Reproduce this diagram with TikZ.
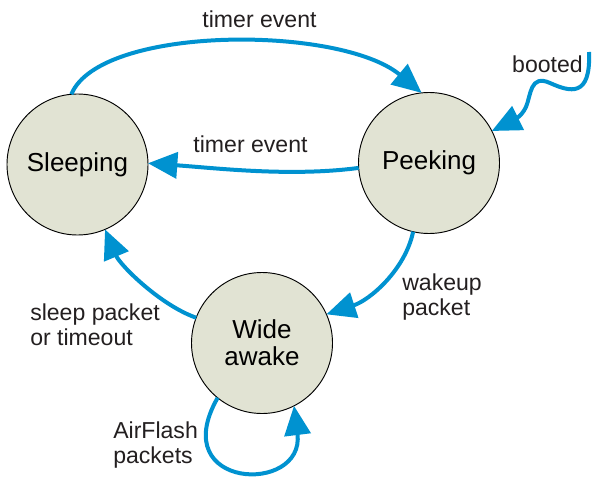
\documentclass[tikz,border=0pt]{standalone}
\usepackage{fontspec}
\setmainfont{Liberation Sans}
\usetikzlibrary{arrows.meta}
\definecolor{flowblue}{RGB}{0,146,208}
\definecolor{statefill}{RGB}{225,227,211}
\definecolor{inktext}{RGB}{35,31,32}
\begin{document}
\begin{tikzpicture}[x=0.75pt,y=-0.75pt,
  state/.style={circle, draw=black, line width=0.7pt, fill=statefill,
    minimum size=105.75pt, inner sep=0pt, outer sep=0pt, align=center,
    font=\fontsize{19.5}{20.25}\selectfont, text=black},
  trans/.style={draw=flowblue, line width=3pt,
    -{Triangle[length=22pt,width=19.5pt]}},
  lbl/.style={font=\fontsize{17.3}{18.75}\selectfont, text=inktext,
    inner sep=0pt, align=left}]
\useasboundingbox (0,0) rectangle (592,478);

% states
\node[state] (sl) at (77.5,164.5) {Sleeping};
\node[state] (pk) at (429,163) {Peeking};
\node[state] (wa) at (262,343) {Wide\\awake};

% transitions
\draw[trans] (sl.95) .. controls (100,25) and (340,25) .. (pk.96);
\draw[trans] (pk.184) .. controls (290,177) and (215,168) .. (sl.1);
\draw[trans] (pk.257) .. controls (405,270) and (370,300) .. (wa.24);
\draw[trans] (wa.159) .. controls (160,305) and (120,265) .. (sl.293);
\draw[trans] (wa.231) .. controls (165,490) and (305,495) .. (wa.297);
\coordinate (bootsrc) at (589,52);
\draw[trans] (bootsrc) .. controls (591,98) and (570,92) .. (550,83)
  .. controls (530,74) and (531,95) .. (526,107)
  .. controls (521,118) and (510,122) .. (pk.27);

% labels (multi-line labels are placed by the baseline of their last line)
\node[lbl, anchor=base] (lblTop) at (259.5,28) {timer event};
\node[lbl, anchor=base] (lblMid) at (250.5,152) {timer event};
\node[lbl, anchor=base] (lblBoot) at (547.5,73) {booted};
\node[lbl, anchor=base west] (lblWake) at (402,315) {wakeup\\packet};
\node[lbl, anchor=base west] (lblSleep) at (30,345) {sleep packet\\or timeout};
\node[lbl, anchor=base west] (lblFlash) at (113,463) {AirFlash\\packets};
\end{tikzpicture}
\end{document}
